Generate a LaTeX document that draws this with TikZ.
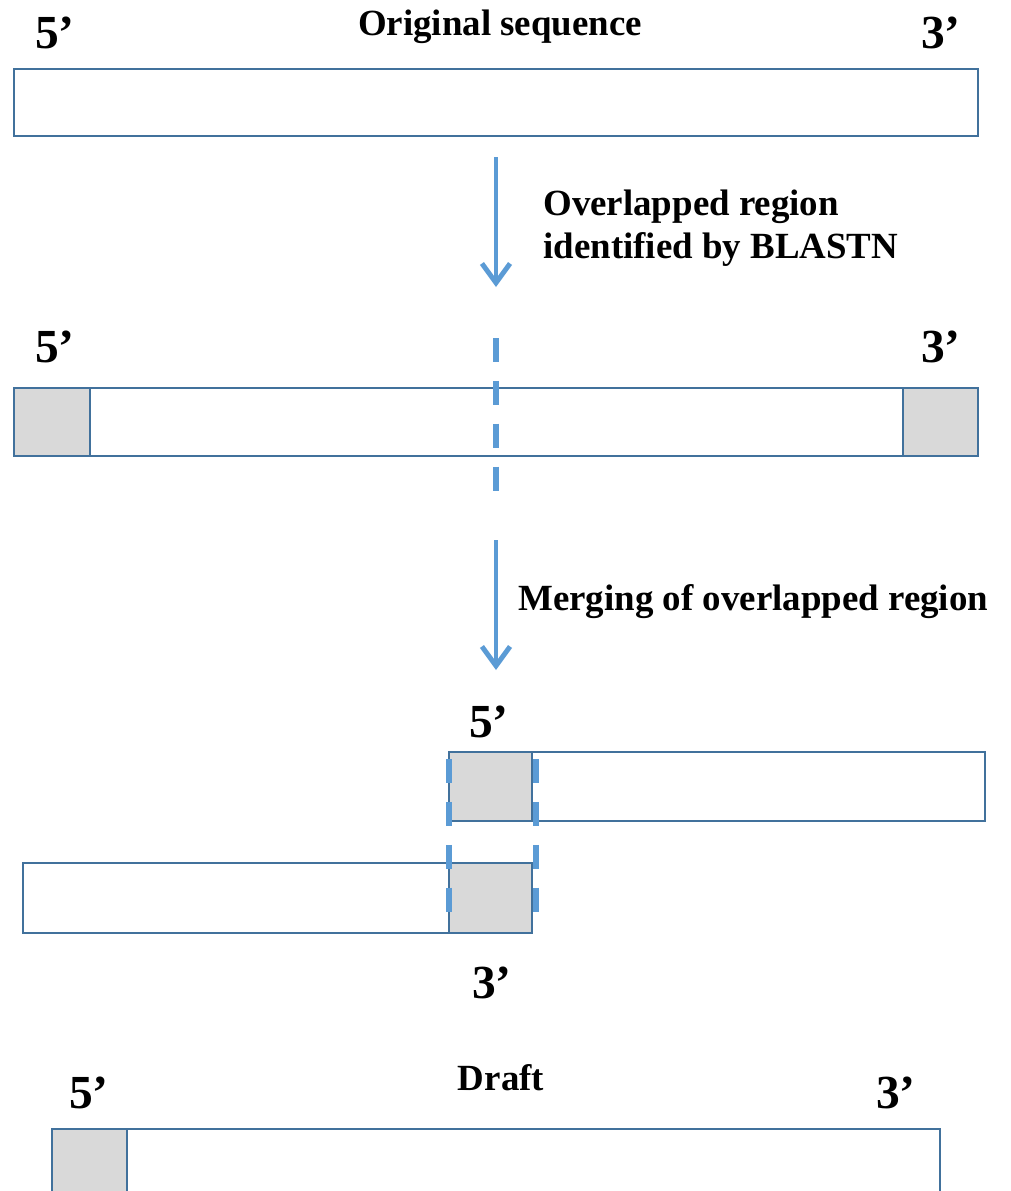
\documentclass[tikz,border=0pt]{standalone}
\usepackage{fontspec}
\setmainfont{Liberation Serif}
\usetikzlibrary{arrows.meta}

\definecolor{barline}{HTML}{41719C}
\definecolor{flowblue}{HTML}{5B9BD5}
\definecolor{capgrey}{HTML}{D9D9D9}

\begin{document}
\begin{tikzpicture}[x=0.02cm, y=-0.02cm]
    % Styles
    \tikzset{
        seqbar/.style={draw=barline, line width=1.2pt, fill=white},
        overlap/.style={draw=barline, line width=1.2pt, fill=capgrey},
        endlabel/.style={font=\fontsize{27}{32}\selectfont\bfseries, anchor=base, inner sep=0pt},
        title/.style={font=\fontsize{21}{25}\selectfont\bfseries, anchor=base, inner sep=0pt},
        steplabel/.style={font=\fontsize{21}{24}\selectfont\bfseries, align=left, anchor=north west, inner sep=0pt},
        flow/.style={draw=flowblue, line width=2.8pt, -{Straight Barb[length=11pt, width=16pt, line width=2.8pt]}},
        guide/.style={draw=flowblue, line width=3.4pt, dash pattern=on 13.6pt off 10.8pt}
    }

    \useasboundingbox (0,0) rectangle (1011,1191);
    \clip (0,0) rectangle (1011,1191);

    % --- Original sequence ---
    \node[endlabel] (orig5) at (55,48) {5’};
    \node[title] (origtitle) at (500,35) {Original sequence};
    \node[endlabel] (orig3) at (941,48) {3’};
    \draw[seqbar] (14,69) rectangle (978,136);

    % Step 1
    \coordinate (s1top) at (496,157);
    \coordinate (s1end) at (496,287);
    \draw[flow] (s1top) -- (s1end);
    \node[steplabel] (s1text) at (543,190) {Overlapped region\\identified by BLASTN};

    % --- Sequence with overlapped ends ---
    \node[endlabel] (ends5) at (55,362) {5’};
    \node[endlabel] (ends3) at (941,362) {3’};
    \draw[seqbar] (14,388) rectangle (978,456);
    \draw[overlap] (14,388) rectangle (90,456);
    \draw[overlap] (903,388) rectangle (978,456);
    \coordinate (cuttop) at (496,338);
    \coordinate (cutend) at (496,491);
    \draw[guide] (cuttop) -- (cutend);

    % Step 2
    \coordinate (s2top) at (496,540);
    \coordinate (s2end) at (496,670);
    \draw[flow] (s2top) -- (s2end);
    \node[title, anchor=base west] (s2text) at (518,610) {Merging of overlapped region};

    % --- Merging ---
    \node[endlabel] (merge5) at (489,737) {5’};
    \draw[seqbar] (449,752) rectangle (985,821);
    \draw[overlap] (449,752) rectangle (532,821);
    \draw[seqbar] (23,863) rectangle (532,933);
    \draw[overlap] (449,863) rectangle (532,933);
    \node[endlabel] (merge3) at (492,998) {3’};
    \coordinate (lefttop) at (449,759);
    \coordinate (leftend) at (449,912);
    \coordinate (righttop) at (536,759);
    \coordinate (rightend) at (536,912);
    \draw[guide] (lefttop) -- (leftend);
    \draw[guide] (righttop) -- (rightend);

    % --- Draft ---
    \node[endlabel] (draft5) at (89,1108) {5’};
    \node[title] (drafttitle) at (501,1090) {Draft};
    \node[endlabel] (draft3) at (896,1108) {3’};
    \draw[seqbar] (52,1129) rectangle (940,1200);
    \draw[overlap] (52,1129) rectangle (127,1200);

\end{tikzpicture}
\end{document}
